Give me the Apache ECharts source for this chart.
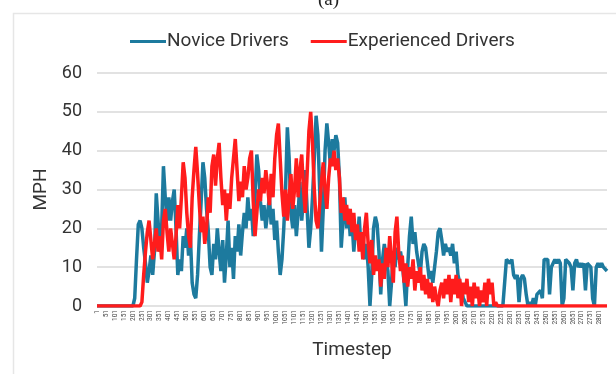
<!DOCTYPE html>
<html>
<head>
<meta charset="utf-8">
<script src="https://cdn.jsdelivr.net/npm/echarts@6/dist/echarts.min.js"></script>
<style>
  html, body { margin: 0; padding: 0; background: #fff; }
  #chart { width: 616px; height: 374px; }
</style>
</head>
<body>
<div id="chart"></div>
<script>
// Timestep axis: one sample every 10 steps, starting at step 1
const firstStep = 1;
const stepSize = 10;
const sampleCount = 285;
const timesteps = [];
for (let i = 0; i < sampleCount; i++) timesteps.push(String(firstStep + i * stepSize));

// Speed (MPH) of novice drivers per sample
const noviceMph = [
  0,0,0,0,0,0,0,0,0,0,
  0,0,0,0,0,0,0,0,0,0,
  0,2,12,21,22,20,15,11,6,9,
  13,8,14,29,22,14,20,36,28,22,
  28,22,27,30,20,8,12,9,18,15,
  20,13,18,6,3,2,8,18,27,37,
  33,25,19,10,8,16,12,20,14,9,
  17,6,13,22,10,15,7,18,14,21,
  13,19,24,20,28,22,25,18,28,39,
  35,27,22,26,20,24,28,21,25,17,
  22,14,8,12,20,30,46,38,24,20,
  26,18,24,32,22,28,35,25,15,20,
  28,38,49,44,30,14,25,40,47,42,
  36,43,40,44,42,33,15,22,28,20,
  25,18,22,14,20,17,23,15,19,12,
  16,10,0,8,20,23,21,14,3,12,
  16,12,9,0,6,14,10,15,12,14,
  11,6,0,10,18,23,16,19,14,11,
  8,14,16,15,11,7,9,6,10,14,
  19,20,17,13,16,14,15,13,16,11,
  14,8,6,4,2,1,0,0,0,0,
  0,0,0,0,0,0,0,0,0,0,
  0,0,0,0,0,0,0,0,12,12,
  11,12,8,7,8,1,7,8,7,3,
  0,1,0,2,0,3,3,4,2,12,
  12,12,3,10,11,12,11,12,11,0,
  2,12,12,11,10,4,11,12,10,11,
  10,11,4,11,11,10,2,0,10,11,
  10,11,10,10,9
];

// Speed (MPH) of experienced drivers per sample
const experiencedMph = [
  0,0,0,0,0,0,0,0,0,0,
  0,0,0,0,0,0,0,0,0,0,
  0,0,0,0,0,1,8,14,19,22,
  17,12,16,20,14,18,12,22,25,19,
  14,20,16,12,18,26,20,28,37,33,
  24,18,15,28,35,41,34,26,19,23,
  16,20,28,24,36,39,31,38,42,33,
  26,30,22,29,25,33,38,43,35,27,
  32,28,36,30,33,38,40,27,18,24,
  30,27,33,29,35,31,26,34,28,38,
  44,47,38,29,23,30,22,28,34,25,
  30,38,28,35,39,30,24,34,45,50,
  42,30,22,20,26,32,37,30,25,33,
  38,36,40,35,38,33,24,28,22,26,
  21,25,19,24,17,21,14,19,12,20,
  24,16,11,17,8,13,9,12,5,11,
  7,15,10,18,12,6,19,23,14,9,
  13,6,11,5,10,7,12,4,9,6,
  10,4,8,3,7,2,6,1,5,2,
  0,4,6,2,7,3,8,1,7,3,
  8,2,7,0,6,3,7,1,5,0,
  6,2,5,0,4,1,6,0,7,3,
  6,0,1,0,0,0,0,0,0,0,
  0,0,0,0,0,0,0,0,0,0,
  0,0,0,0,0,0,0,0,0,0,
  0,0,0,0,0,0,0,0,0,0,
  0,0,0,0,0,0,0,0,0,0,
  0,0,0,0,0,0,0,0,0,0,
  0,0,0,0,0
];

const seriesNames = ['Novice Drivers', 'Experienced Drivers'];
const yTicks = [0, 10, 20, 30, 40, 50, 60];

const chart = echarts.init(document.getElementById('chart'), null, { renderer: 'canvas' });
chart.setOption({
  animation: false,
  backgroundColor: '#ffffff',
  textStyle: { fontFamily: 'Roboto' },
  graphic: [
    {
      type: 'rect',
      shape: { x: 13.5, y: 13.5, width: 640, height: 400 },
      style: { fill: 'none', stroke: '#e6e6e6', lineWidth: 1.5 }
    },
    {
      type: 'text',
      left: 318, top: -9,
      style: { text: '(a)', font: '19px "Liberation Serif"', fill: '#222' }
    }
  ],
  legend: {
    left: 125, top: 27,
    itemWidth: 36, itemHeight: 3, itemGap: 22,
    icon: 'rect',
    textStyle: { fontSize: 19, color: '#333', fontFamily: 'Roboto', padding: [0, 0, 0, -4] },
    data: seriesNames
  },
  grid: { left: 97, right: 9, top: 73, bottom: 68, containLabel: false },
  xAxis: {
    type: 'category',
    data: timesteps,
    boundaryGap: false,
    name: 'Timestep',
    nameLocation: 'middle',
    nameGap: 35,
    nameTextStyle: { fontSize: 19, color: '#333' },
    axisLine: { show: false },
    axisTick: { show: false },
    axisLabel: { interval: 4, rotate: 90, fontSize: 6.5, color: '#444', margin: 4 }
  },
  yAxis: {
    type: 'value',
    min: yTicks[0], max: yTicks[yTicks.length - 1], interval: 10,
    name: 'MPH',
    nameLocation: 'middle',
    nameGap: 45,
    nameTextStyle: { fontSize: 19, color: '#333' },
    axisLine: { show: false },
    axisTick: { show: false },
    axisLabel: { fontSize: 18, color: '#333', margin: 15 },
    splitLine: { lineStyle: { color: '#d9d9d9', width: 1.5 } }
  },
  series: [
    {
      name: seriesNames[0], type: 'line', data: noviceMph,
      showSymbol: false, symbol: 'none',
      lineStyle: { color: '#1d7a9e', width: 3.5 },
      itemStyle: { color: '#1d7a9e' }
    },
    {
      name: seriesNames[1], type: 'line', data: experiencedMph,
      showSymbol: false, symbol: 'none',
      lineStyle: { color: '#ff1c1c', width: 3.5 },
      itemStyle: { color: '#ff1c1c' }
    }
  ]
});
</script>
</body>
</html>
